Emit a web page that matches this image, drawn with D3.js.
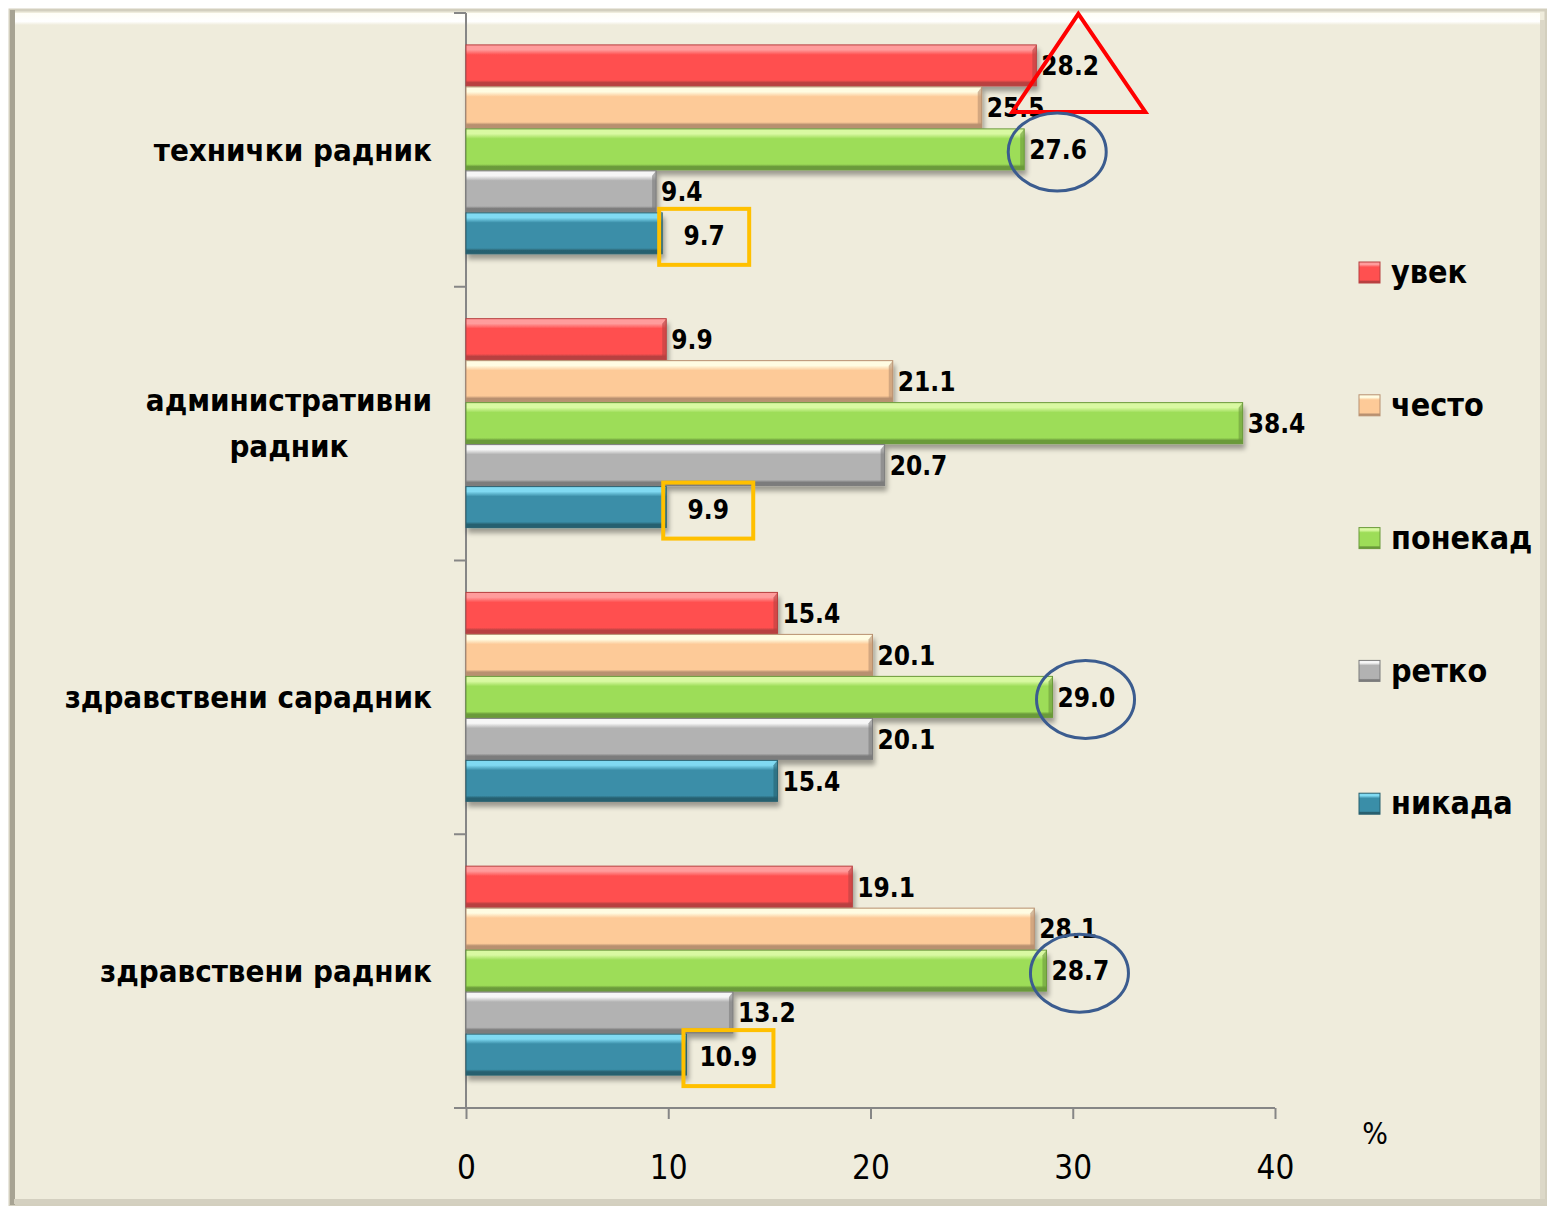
<!DOCTYPE html>
<html>
<head>
<meta charset="utf-8">
<script src="https://cdnjs.cloudflare.com/ajax/libs/d3/7.8.5/d3.min.js"></script>
<style>
  body { margin: 0; background: #fff; }
  .chart text { font-family: "DejaVu Sans Condensed", "DejaVu Sans", sans-serif; fill: #000; }
</style>
</head>
<body>
<div class="chart"></div>
<script>
// categories top to bottom
var CATEGORIES = ['технички радник', 'административни радник', 'здравствени сарадник', 'здравствени радник'];
var SERIES = ['увек', 'често', 'понекад', 'ретко', 'никада'];

// one array per series, in category order
var UVEK    = [28.2,  9.9, 15.4, 19.1];
var CESTO   = [25.5, 21.1, 20.1, 28.1];
var PONEKAD = [27.6, 38.4, 29.0, 28.7];
var RETKO   = [ 9.4, 20.7, 20.1, 13.2];
var NIKADA  = [ 9.7,  9.9, 15.4, 10.9];

var X_TICKS = [0, 10, 20, 30, 40];

// hand-drawn marks over the labels
var TRIANGLES = [{cat: 0, series: 'увек'}];
var CIRCLES = [{cat: 0, series: 'понекад'}, {cat: 2, series: 'понекад'}, {cat: 3, series: 'понекад'}];
var BOXES = [{cat: 0, series: 'никада'}, {cat: 1, series: 'никада'}, {cat: 3, series: 'никада'}];

var COLORS = {
  'увек':    {base: '#ff5050', light: '#ff9c9c', dark: '#b84040'},
  'често':   {base: '#fdca98', light: '#fffce2', dark: '#b89070'},
  'понекад': {base: '#9ddd58', light: '#d9f9a2', dark: '#6a9a3a'},
  'ретко':   {base: '#b2b2b2', light: '#f6f6f6', dark: '#7c7c7c'},
  'никада':  {base: '#3a8ea8', light: '#80daf2', dark: '#28606f'}
};

var valuesBySeries = {
  'увек': UVEK, 'често': CESTO, 'понекад': PONEKAD, 'ретко': RETKO, 'никада': NIKADA
};

function isBoxed(d) {
  return BOXES.some(function (b) { return b.cat === d.cat && b.series === d.series; });
}

var data = [];
CATEGORIES.forEach(function (c, i) {
  SERIES.forEach(function (s) {
    data.push({cat: i, category: c, series: s, value: valuesBySeries[s][i]});
  });
});

var W = 1547, H = 1206;
var plot = {left: 466, right: 1275, top: 13, bottom: 1108};

var svg = d3.select('.chart').append('svg')
    .attr('width', W)
    .attr('height', H);

var defs = svg.append('defs');

// frame
var topGlow = defs.append('linearGradient').attr('id', 'topGlow').attr('x1', 0).attr('x2', 0).attr('y1', 0).attr('y2', 1);
topGlow.append('stop').attr('offset', '0%').attr('stop-color', '#fffef6');
topGlow.append('stop').attr('offset', '70%').attr('stop-color', '#ffffff');
topGlow.append('stop').attr('offset', '100%').attr('stop-color', '#efecdc');

svg.append('rect')
    .attr('x', 10).attr('y', 10).attr('width', 1536).attr('height', 1195)
    .attr('fill', '#efecdc')
    .attr('stroke', '#d3cfbe').attr('stroke-width', 3);
svg.append('rect')
    .attr('x', 14).attr('y', 13).attr('width', 1526).attr('height', 12)
    .attr('fill', 'url(#topGlow)');
svg.append('rect')
    .attr('x', 10).attr('y', 10).attr('width', 5).attr('height', 1195)
    .attr('fill', '#a7a393');
svg.append('rect')
    .attr('x', 1540).attr('y', 20).attr('width', 5).attr('height', 1183)
    .attr('fill', '#dcd8c8');
svg.append('rect')
    .attr('x', 14).attr('y', 1199).attr('width', 1532).attr('height', 5)
    .attr('fill', '#d4d0c0');

// bar gradients
SERIES.forEach(function (s, i) {
  var c = COLORS[s];
  var g = defs.append('linearGradient').attr('id', 'bar' + i)
      .attr('x1', 0).attr('x2', 0).attr('y1', 0).attr('y2', 1);
  g.append('stop').attr('offset', '0%').attr('stop-color', c.light);
  g.append('stop').attr('offset', '12%').attr('stop-color', c.light);
  g.append('stop').attr('offset', '24%').attr('stop-color', c.base);
  g.append('stop').attr('offset', '86%').attr('stop-color', c.base);
  g.append('stop').attr('offset', '92%').attr('stop-color', c.dark);
  g.append('stop').attr('offset', '100%').attr('stop-color', c.dark);
});

var shadow = defs.append('filter').attr('id', 'shadow')
    .attr('x', '-5%').attr('y', '-20%').attr('width', '110%').attr('height', '160%');
shadow.append('feGaussianBlur').attr('in', 'SourceAlpha').attr('stdDeviation', 2.5);
shadow.append('feOffset').attr('dx', 2).attr('dy', 5).attr('result', 'off');
shadow.append('feComponentTransfer').append('feFuncA').attr('type', 'linear').attr('slope', 0.35);
var merge = shadow.append('feMerge');
merge.append('feMergeNode');
merge.append('feMergeNode').attr('in', 'SourceGraphic');

var x = d3.scaleLinear().domain([0, 40]).range([plot.left, plot.right]);
var y = d3.scaleBand().domain(d3.range(CATEGORIES.length)).range([plot.top, plot.bottom]);
var ySeries = d3.scaleBand().domain(SERIES).range([0, y.bandwidth()]).paddingOuter(0.76);

function barTop(d) { return y(d.cat) + ySeries(d.series); }
function barMid(d) { return barTop(d) + ySeries.step() / 2; }

// axes
var xAxis = svg.append('g')
    .attr('transform', 'translate(0,' + plot.bottom + ')')
    .call(d3.axisBottom(x).tickValues(X_TICKS).tickSize(11).tickPadding(37).tickSizeOuter(0));
xAxis.select('.domain').remove();
xAxis.append('line')
    .attr('x1', plot.left - 12).attr('x2', plot.right)
    .attr('stroke', '#868686').attr('stroke-width', 2);
xAxis.selectAll('.tick line').attr('stroke', '#868686').attr('stroke-width', 2);
xAxis.selectAll('.tick text')
    .style('font-size', '33px')
    .attr('font-family', null);

var yAxis = svg.append('g');
yAxis.append('line')
    .attr('x1', plot.left).attr('x2', plot.left)
    .attr('y1', plot.top).attr('y2', plot.bottom)
    .attr('stroke', '#868686').attr('stroke-width', 2);
yAxis.selectAll('.tk')
    .data(d3.range(CATEGORIES.length))
    .enter().append('line')
    .attr('x1', plot.left - 12).attr('x2', plot.left)
    .attr('y1', function (d) { return y(d); })
    .attr('y2', function (d) { return y(d); })
    .attr('stroke', '#868686').attr('stroke-width', 2);

// category labels, wrapped when too wide
var catLabels = svg.append('g').selectAll('text')
    .data(CATEGORIES)
    .enter().append('text')
    .style('font-size', '31px')
    .style('font-weight', 'bold')
    .attr('text-anchor', 'end')
    .attr('x', 432)
    .attr('y', function (d, i) { return y(i) + y.bandwidth() / 2; })
    .attr('dy', '0.35em')
    .text(function (d) { return d; });

catLabels.each(function (d, i) {
  var t = d3.select(this);
  if (this.getComputedTextLength() < 390) return;
  var words = d.split(' ');
  t.text(null).attr('dy', null);
  var spans = words.map(function (w, k) {
    return t.append('tspan')
        .attr('y', y(i) + y.bandwidth() / 2 + (k - (words.length - 1) / 2) * 46)
        .attr('dy', '0.35em')
        .text(w);
  });
  var widest = d3.max(spans, function (s) { return s.node().getComputedTextLength(); });
  t.attr('text-anchor', 'middle');
  spans.forEach(function (s) { s.attr('x', 432 - widest / 2); });
});

// bars
var bars = svg.append('g').selectAll('g.bar')
    .data(data)
    .enter().append('g')
    .attr('class', 'bar')
    .attr('filter', 'url(#shadow)');

bars.append('rect')
    .attr('x', x(0))
    .attr('y', barTop)
    .attr('width', function (d) { return x(d.value) - x(0); })
    .attr('height', ySeries.step() - 1)
    .attr('fill', function (d) { return 'url(#bar' + SERIES.indexOf(d.series) + ')'; })
    .attr('stroke', function (d) { return COLORS[d.series].dark; })
    .attr('stroke-width', 1);

// bevelled right end
bars.append('path')
    .attr('d', function (d) {
      var x1 = x(d.value), y0 = barTop(d), h = ySeries.step() - 1;
      return 'M' + x1 + ',' + y0 + 'L' + (x1 - 4) + ',' + (y0 + 5) +
             'L' + (x1 - 4) + ',' + (y0 + h - 4) + 'L' + x1 + ',' + (y0 + h) + 'Z';
    })
    .attr('fill', function (d) { return COLORS[d.series].dark; })
    .attr('opacity', 0.6);

// value labels (boxed ones sit in the middle of their box)
svg.append('g').selectAll('text')
    .data(data)
    .enter().append('text')
    .style('font-size', '26px')
    .style('font-weight', 'bold')
    .attr('text-anchor', function (d) { return isBoxed(d) ? 'middle' : 'start'; })
    .attr('x', function (d) { return isBoxed(d) ? x(d.value) + 42 : x(d.value) + 5; })
    .attr('y', function (d) { return isBoxed(d) ? barMid(d) + 2 : barMid(d); })
    .attr('dy', '0.36em')
    .text(function (d) { return d3.format('.1f')(d.value); });

// annotations
function findBar(a) {
  return data.filter(function (d) { return d.cat === a.cat && d.series === a.series; })[0];
}

var notes = svg.append('g').attr('fill', 'none');

notes.selectAll('path.tri')
    .data(TRIANGLES.map(findBar))
    .enter().append('path')
    .attr('d', function (d) {
      var cx = x(d.value) + 42, cy = barMid(d);
      return 'M' + cx + ',' + (cy - 52) + 'L' + (cx + 67) + ',' + (cy + 46) +
             'L' + (cx - 66) + ',' + (cy + 46) + 'Z';
    })
    .attr('stroke', '#ff0000').attr('stroke-width', 4);

notes.selectAll('ellipse')
    .data(CIRCLES.map(findBar))
    .enter().append('ellipse')
    .attr('cx', function (d) { return x(d.value) + 33; })
    .attr('cy', function (d) { return barMid(d) + 2; })
    .attr('rx', 49).attr('ry', 39)
    .attr('stroke', '#3b5c8f').attr('stroke-width', 3);

notes.selectAll('rect')
    .data(BOXES.map(findBar))
    .enter().append('rect')
    .attr('x', function (d) { return x(d.value) - 3; })
    .attr('y', function (d) { return barMid(d) - 25; })
    .attr('width', 90).attr('height', 56)
    .attr('stroke', '#ffc000').attr('stroke-width', 4);

// legend
var legend = svg.append('g').selectAll('g')
    .data(SERIES)
    .enter().append('g')
    .attr('transform', function (d, i) { return 'translate(1359,' + (272 + i * 132.8) + ')'; });

legend.append('rect')
    .attr('y', -10).attr('width', 21).attr('height', 21)
    .attr('fill', function (d, i) { return 'url(#bar' + i + ')'; })
    .attr('stroke', function (d) { return COLORS[d].dark; });

legend.append('text')
    .attr('x', 32)
    .attr('dy', '0.35em')
    .style('font-size', '32px')
    .style('font-weight', 'bold')
    .text(function (d) { return d; });

svg.append('text')
    .attr('x', 1375).attr('y', 1133)
    .attr('text-anchor', 'middle')
    .attr('dy', '0.35em')
    .style('font-size', '30px')
    .text('%');
</script>
</body>
</html>
